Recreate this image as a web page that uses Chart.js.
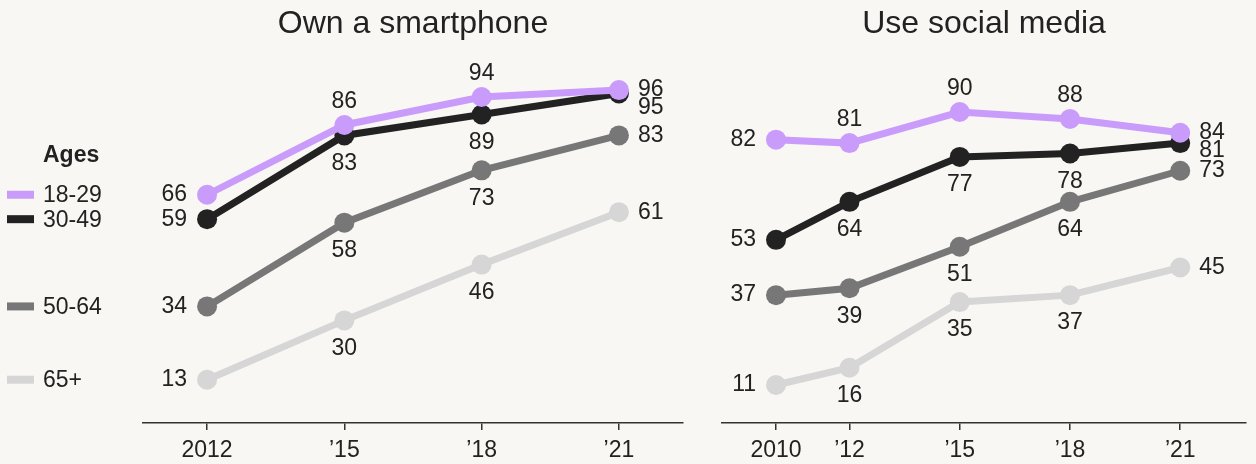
<!DOCTYPE html>
<html>
<head>
<meta charset="utf-8">
<script src="https://cdn.jsdelivr.net/npm/chart.js@4.4.1/dist/chart.umd.min.js"></script>
<style>
  html, body { margin: 0; padding: 0; background: #f8f7f3; }
  .wrap { position: absolute; top: 0; height: 464px; }
  #phoneWrap { left: 0; width: 700px; }
  #socialWrap { left: 700px; width: 556px; }
</style>
</head>
<body>
<div class="wrap" id="phoneWrap"><canvas id="phoneChart"></canvas></div>
<div class="wrap" id="socialWrap"><canvas id="socialChart"></canvas></div>
<script>
// ---------------------------
// Data
// ---------------------------
const ageGroups = ["18-29", "30-49", "50-64", "65+"];
const ageColors = ["#c99cfb", "#222222", "#777777", "#d6d6d6"];

const phoneYears = [2012, 2015, 2018, 2021];
const phoneYearLabels = ["2012", "\u201915", "\u201918", "\u201921"];
const phone1829 = [66, 86, 94, 96];
const phone3049 = [59, 83, 89, 95];
const phone5064 = [34, 58, 73, 83];
const phone65 = [13, 30, 46, 61];

const socialYears = [2010, 2012, 2015, 2018, 2021];
const socialYearLabels = ["2010", "\u201912", "\u201915", "\u201918", "\u201921"];
const social1829 = [82, 81, 90, 88, 84];
const social3049 = [53, 64, 77, 78, 81];
const social5064 = [37, 39, 51, 64, 73];
const social65 = [11, 16, 35, 37, 45];

const FONT = '"Liberation Sans", Arial, sans-serif';
const TEXT = "#222222";

function makeDatasets(years, seriesList){
  return seriesList.map((vals, i)=>({
    label: ageGroups[i],
    data: vals.map((v, j)=>({ x: years[j], y: v })),
    borderColor: ageColors[i],
    backgroundColor: ageColors[i],
    pointBackgroundColor: ageColors[i],
    pointBorderWidth: 0,
    pointRadius: 10,
    pointHoverRadius: 10,
    borderWidth: 7,
    tension: 0,
    clip: false
  }));
}

// ---------------------------
// Plugins
// ---------------------------
const valueLabels = {
  id: "valueLabels",
  afterDatasetsDraw(chart){
    const ctx = chart.ctx;
    ctx.save();
    ctx.font = `23px ${FONT}`;
    ctx.fillStyle = TEXT;
    ctx.textBaseline = "middle";
    let lastRightY = -Infinity;
    chart.data.datasets.forEach((ds, di)=>{
      const meta = chart.getDatasetMeta(di);
      const n = meta.data.length;
      meta.data.forEach((pt, i)=>{
        let x = pt.x, y = pt.y;
        if(i === 0){
          ctx.textAlign = "right";
          x -= 20;
        }else if(i === n - 1){
          ctx.textAlign = "left";
          x += 19;
          if(y < lastRightY + 18) y = lastRightY + 18;
          lastRightY = y;
        }else{
          ctx.textAlign = "center";
          y += (di === 0) ? -23 : 28;
        }
        ctx.fillText(String(ds.data[i].y), x, y);
      });
    });
    ctx.restore();
  }
};

const agesLegend = {
  id: "agesLegend",
  afterDraw(chart){
    const ctx = chart.ctx;
    const yScale = chart.scales.y;
    ctx.save();
    ctx.textAlign = "left";
    ctx.textBaseline = "middle";
    ctx.fillStyle = TEXT;
    ctx.font = `bold 23px ${FONT}`;
    ctx.fillText("Ages", 43, 156);
    ctx.font = `23px ${FONT}`;
    chart.data.datasets.forEach((ds)=>{
      const py = yScale.getPixelForValue(ds.data[0].y);
      ctx.fillStyle = ds.borderColor;
      ctx.fillRect(7, py - 4, 27, 8);
      ctx.fillStyle = TEXT;
      ctx.fillText(ds.label, 43, py + 1);
    });
    ctx.restore();
  }
};

// ---------------------------
// Charts
// ---------------------------
function makeOptions(title, years, labels, xMin, xMax, yMin, yMax, pad){
  return {
    responsive: true,
    maintainAspectRatio: false,
    animation: false,
    events: [],
    layout: { padding: pad },
    plugins: {
      legend: { display: false },
      tooltip: { enabled: false },
      title: {
        display: true,
        text: title,
        fullSize: false,
        color: TEXT,
        font: { family: FONT, size: 32, weight: "normal", lineHeight: 1.2 },
        padding: { top: 5, bottom: 30.6 }
      }
    },
    scales: {
      x: {
        type: "linear",
        min: xMin,
        max: xMax,
        afterBuildTicks: (scale)=>{ scale.ticks = years.map(v=>({ value: v })); },
        afterFit: (scale)=>{ scale.height = 41; },
        ticks: {
          color: TEXT,
          font: { family: FONT, size: 23 },
          padding: 7,
          maxRotation: 0,
          autoSkip: false,
          callback: (v)=> labels[years.indexOf(v)]
        },
        grid: {
          display: true,
          drawOnChartArea: false,
          drawTicks: true,
          tickLength: 7,
          color: "#333333",
          lineWidth: 1.5
        },
        border: { display: true, color: "#333333", width: 1.5 }
      },
      y: {
        display: false,
        min: yMin,
        max: yMax
      }
    }
  };
}

const phoneChart = new Chart(document.getElementById("phoneChart"), {
  type: "line",
  data: {
    datasets: makeDatasets(phoneYears, [phone1829, phone3049, phone5064, phone65])
  },
  options: makeOptions("Own a smartphone", phoneYears, phoneYearLabels,
    2010.6, 2022.4, 0.6, 100.6, { left: 143, right: 17, top: 0, bottom: 0 }),
  plugins: [valueLabels, agesLegend]
});

const socialChart = new Chart(document.getElementById("socialChart"), {
  type: "line",
  data: {
    datasets: makeDatasets(socialYears, [social1829, social3049, social5064, social65])
  },
  options: makeOptions("Use social media", socialYears, socialYearLabels,
    2008.53, 2022.79, 0, 101, { left: 22, right: 0, top: 0, bottom: 0 }),
  plugins: [valueLabels]
});
</script>
</body>
</html>
